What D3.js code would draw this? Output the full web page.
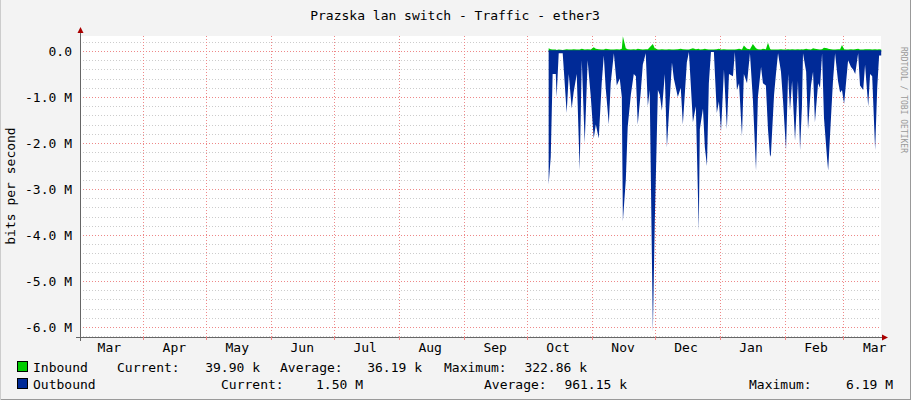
<!DOCTYPE html>
<html><head><meta charset="utf-8">
<script src="https://cdn.jsdelivr.net/npm/d3@7"></script>
<style>body{margin:0;background:#f3f3f3}svg{display:block}text{font-family:"DejaVu Sans Mono",monospace}</style>
</head><body><svg id="c" width="911" height="400"></svg>
<script>
// Data: days since Oct 1 (start of data at Oct 11), values in M bits/s
const dayOffsets=[10.5,11.5,12.4,13.9,14.3,15.3,17.2,19.1,20.1,21.5,22.4,23.9,25.3,26.3,27.7,29.1,30.6,32.0,33.0,34.4,35.8,36.8,37.7,39.2,40.1,41.6,43.0,44.4,45.4,45.9,47.3,48.2,49.7,51.1,52.1,53.0,54.4,55.4,56.8,57.8,58.7,60.2,61.1,62.6,63.5,64.5,65.9,66.9,67.8,69.3,70.2,72.1,73.5,74.5,76.4,77.4,79.3,80.7,82.1,82.6,84.1,85.0,86.0,86.9,87.9,89.3,90.7,91.7,92.7,94.1,95.5,96.5,98.4,99.3,100.3,101.3,102.7,103.6,105.1,106.5,107.9,109.4,110.3,111.8,112.7,114.1,115.1,116.1,116.5,118.0,118.9,119.9,121.3,122.3,123.7,124.7,125.6,126.6,128.0,129.4,130.4,131.3,131.8,133.3,134.2,135.6,136.6,137.5,139.0,139.9,140.9,141.8,143.3,143.8,145.2,146.1,147.1,148.5,149.5,150.4,151.4,152.4,153.3,154.7,155.7,156.7,158.1,159.0,160.5,161.4,162.9,163.8,164.8,166.2,167.2,168.1,169.1];
const outbound=[2.9,2.3,0.5,0.5,1.0,0.05,0.05,1.35,0.5,1.25,0.9,0.5,2.6,0.2,2.0,0.2,1.0,1.9,1.6,1.9,0.7,0.1,0.8,1.6,0.7,0.05,0.75,0.6,1.0,3.7,2.8,1.65,0.95,0.5,0.55,1.6,0.9,0.3,0.05,1.2,0.85,6.1,3.75,0.85,0.95,1.3,0.5,2.1,1.4,0.25,0.6,1.0,0.8,1.6,0.25,0.02,1.55,1.2,3.9,1.7,1.25,2.1,2.5,0.7,0.02,0.02,1.35,1.1,1.75,0.4,1.7,0.5,0.55,0.02,0.85,0.7,1.85,0.5,0.7,0.05,1.05,2.6,1.0,0.35,0.7,0.75,1.7,2.3,2.25,0.95,0.5,0.05,0.45,1.1,2.15,0.5,1.3,0.65,1.95,0.65,2.15,1.2,0.05,0.45,1.7,0.75,0.45,1.55,0.7,0.8,0.05,1.45,2.35,2.6,1.4,0.65,0.05,0.65,0.9,0.85,1.15,0.65,0.2,0.35,0.4,0.5,0.05,0.75,0.85,0.3,1.2,0.5,0.55,2.15,0.8,0.1,0.1];
const inbound=[0.06,0.04,0.03,0.03,0.02,0.03,0.02,0.04,0.03,0.03,0.04,0.03,0.03,0.05,0.03,0.04,0.03,0.08,0.05,0.04,0.03,0.03,0.05,0.04,0.03,0.03,0.04,0.03,0.05,0.32,0.06,0.04,0.03,0.04,0.03,0.05,0.04,0.03,0.04,0.04,0.08,0.15,0.06,0.03,0.03,0.04,0.03,0.03,0.04,0.03,0.03,0.04,0.05,0.04,0.03,0.03,0.06,0.04,0.05,0.03,0.04,0.05,0.04,0.03,0.03,0.03,0.04,0.05,0.03,0.04,0.03,0.03,0.03,0.03,0.04,0.05,0.03,0.12,0.05,0.04,0.15,0.06,0.04,0.03,0.05,0.04,0.18,0.05,0.03,0.03,0.03,0.03,0.04,0.03,0.03,0.04,0.03,0.04,0.03,0.04,0.03,0.04,0.03,0.05,0.04,0.03,0.06,0.05,0.04,0.03,0.04,0.07,0.06,0.05,0.04,0.03,0.03,0.04,0.04,0.13,0.04,0.03,0.03,0.04,0.03,0.04,0.05,0.03,0.03,0.04,0.04,0.04,0.03,0.04,0.03,0.04,0.03];
const monthLabels=["Mar","Apr","May","Jun","Jul","Aug","Sep","Oct","Nov","Dec","Jan","Feb","Mar"];
const yTicks=[0,-1,-2,-3,-4,-5,-6];
const legendRows=[
 {name:"Inbound",color:"#00cc00",stats:[["Current:","39.90 k",117,260],["Average:","36.19 k",280,422],["Maximum:","322.86 k",444,587]]},
 {name:"Outbound",color:"#002a97",stats:[["Current:","1.50 M",221,363],["Average:","961.15 k",484,627],["Maximum:","6.19 M",749,893]]}
];

const svg=d3.select("#c");
const L=80,R=881,T=36,B=337;
const oct1=new Date(2012,9,1);
const dayMs=864e5;
const x=d3.scaleTime().domain([new Date(2012,2,2),new Date(2013,2,19)]).range([L,R]);
const y=d3.scaleLinear().domain([-6.217,0.326]).range([B,T]);
svg.append("rect").attr("x",0).attr("y",0).attr("width",911).attr("height",400).attr("fill","#f3f3f3");
svg.append("rect").attr("x",L).attr("y",T).attr("width",R-L).attr("height",B-T).attr("fill","#fff");
svg.append("line").attr("x1",910.5).attr("x2",910.5).attr("y1",0).attr("y2",400).attr("stroke","#999");
svg.append("line").attr("x1",0).attr("x2",911).attr("y1",399.5).attr("y2",399.5).attr("stroke","#999");
svg.append("line").attr("x1",0.5).attr("x2",0.5).attr("y1",0).attr("y2",400).attr("stroke","#ccc");
// minor grid
const g=svg.append("g");
d3.range(-6.2,0.31,0.2).forEach(v=>{
  const yy=Math.round(y(v))+0.5;
  g.append("line").attr("x1",L).attr("x2",R).attr("y1",yy).attr("y2",yy).attr("stroke","#ccc").attr("stroke-dasharray","1,2");
});
// months
const months=d3.timeMonth.range(new Date(2012,3,1),new Date(2013,2,2));
months.forEach(m=>{const xx=Math.round(x(m))+0.5;
  g.append("line").attr("x1",xx).attr("x2",xx).attr("y1",T).attr("y2",B).attr("stroke","#e88").attr("stroke-dasharray","1,2");});
yTicks.forEach(v=>{const yy=Math.round(y(v))+0.5;
  g.append("line").attr("x1",L).attr("x2",R).attr("y1",yy).attr("y2",yy).attr("stroke","#e88").attr("stroke-dasharray","1,2");
  svg.append("text").attr("x",72).attr("y",yy+4.5).attr("text-anchor","end").attr("font-size",13).attr("fill","#000").text(v===0?"0.0":v.toFixed(1)+" M");});
// labels
monthLabels.forEach((t,i)=>{const d=new Date(2012,2+i,16);
  svg.append("text").attr("x",x(d)).attr("y",352).attr("text-anchor","middle").attr("font-size",13).text(t);});
// data
const pts=dayOffsets.map((d,i)=>({t:new Date(+oct1+d*dayMs),o:outbound[i],n:inbound[i]}));
svg.append("path").datum(pts).attr("fill","#002a97")
 .attr("d",d3.area().x(d=>x(d.t)).y0(y(0)).y1(d=>y(-d.o)));
svg.append("path").datum(pts).attr("fill","#00cc00")
 .attr("d",d3.area().x(d=>x(d.t)).y0(y(0)).y1(d=>y(d.n)));
svg.append("line").attr("x1",x(pts[0].t)).attr("x2",x(pts[pts.length-1].t)).attr("y1",y(0)).attr("y2",y(0)).attr("stroke","#002a97").attr("stroke-width",1.5);
// axes
svg.append("line").attr("x1",L+0.5).attr("x2",L+0.5).attr("y1",T-6).attr("y2",B+4).attr("stroke","#666");
svg.append("line").attr("x1",L-4).attr("x2",R+3).attr("y1",B+0.5).attr("y2",B+0.5).attr("stroke","#666");
svg.append("path").attr("d",`M${L-2.5},${T-3}L${L+3.5},${T-3}L${L+0.5},${T-9}Z`).attr("fill","#a00");
svg.append("path").attr("d",`M${R+1},${B-2.5}L${R+1},${B+3.5}L${R+7},${B+0.5}Z`).attr("fill","#a00");
months.concat([]).forEach(m=>{const xx=Math.round(x(m))+0.5;
  svg.append("line").attr("x1",xx).attr("x2",xx).attr("y1",B).attr("y2",B+3).attr("stroke","#e88");});
// titles
svg.append("text").attr("x",455).attr("y",20).attr("text-anchor","middle").attr("font-size",13).text("Prazska lan switch - Traffic - ether3");
svg.append("text").attr("transform","translate(15,186) rotate(-90)").attr("text-anchor","middle").attr("font-size",13).text("bits per second");
svg.append("text").attr("transform","translate(901,100) rotate(90)").attr("text-anchor","middle").attr("font-size",8).attr("fill","#999").text("RRDTOOL / TOBI OETIKER");
// legend
legendRows.forEach((r,i)=>{const by=372+i*17;
  svg.append("rect").attr("x",17.5).attr("y",by-10.5).attr("width",10).attr("height",10).attr("fill",r.color).attr("stroke","#000");
  svg.append("text").attr("x",33).attr("y",by).attr("font-size",13).text(r.name);
  r.stats.forEach(s=>{svg.append("text").attr("x",s[2]).attr("y",by).attr("font-size",13).text(s[0]);
    svg.append("text").attr("x",s[3]).attr("y",by).attr("text-anchor","end").attr("font-size",13).text(s[1]);});
});
</script></body></html>
